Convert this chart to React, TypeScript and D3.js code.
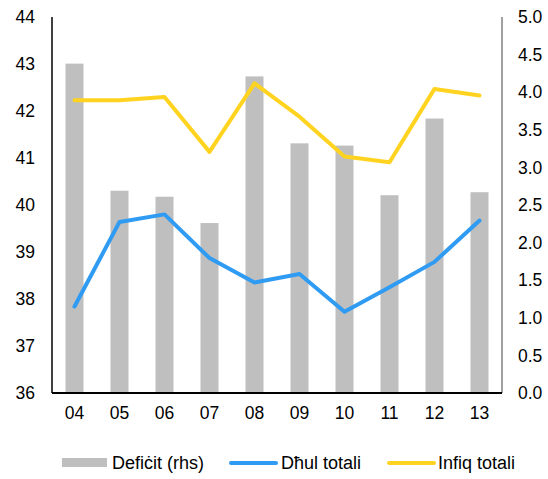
import React from "react";
import * as d3 from "d3";

const years = ["04", "05", "06", "07", "08", "09", "10", "11", "12", "13"];
const deficit = [4.38, 2.69, 2.61, 2.26, 4.21, 3.32, 3.29, 2.63, 3.65, 2.67];
const revenue = [37.84, 39.64, 39.8, 38.87, 38.35, 38.53, 37.73, 38.25, 38.79, 39.67];
const expenditure = [42.23, 42.23, 42.3, 41.13, 42.59, 41.88, 41.03, 40.91, 42.47, 42.33];
const leftTicks = [36, 37, 38, 39, 40, 41, 42, 43, 44];
const rightTicks = [0, 0.5, 1, 1.5, 2, 2.5, 3, 3.5, 4, 4.5, 5];

export default function App() {
  const W = 548, H = 479;
  const left = 52, right = 502, top = 17, bottom = 393;
  const x = d3.scaleBand<string>().domain(years).range([left, right]);
  const yL = d3.scaleLinear().domain([36, 44]).range([bottom, top]);
  const yR = d3.scaleLinear().domain([0, 5]).range([bottom, top]);
  const bw = 18;
  const cx = (d: string) => (x(d) as number) + x.bandwidth() / 2;
  const line = d3.line<number>().x((_, i) => cx(years[i])).y((v) => yL(v));
  const font = "Liberation Sans, Arial, sans-serif";
  const fs = 17.5;
  return (
    <svg width={W} height={H} style={{ position: "absolute", left: 0, top: 0 }} fontFamily={font}>
      {years.map((d, i) => (
        <rect key={d} x={cx(d) - bw / 2} y={yR(deficit[i])} width={bw} height={bottom - yR(deficit[i])} fill="#BFBFBF" />
      ))}
      <path d={line(expenditure) || ""} fill="none" stroke="#FFD320" strokeWidth={4} strokeLinejoin="round" strokeLinecap="round" />
      <path d={line(revenue) || ""} fill="none" stroke="#2F9BF3" strokeWidth={4} strokeLinejoin="round" strokeLinecap="round" />
      <line x1={left} x2={left} y1={top} y2={bottom} stroke="#000" strokeWidth={1.5} />
      <line x1={right} x2={right} y1={top} y2={bottom} stroke="#808080" strokeWidth={1.5} />
      <line x1={left} x2={right} y1={bottom} y2={bottom} stroke="#000" strokeWidth={2} />
      {leftTicks.map((t) => (
        <text key={t} x={35} y={yL(t)} dy="0.35em" textAnchor="end" fontSize={fs} fill="#000">{t}</text>
      ))}
      {rightTicks.map((t) => (
        <text key={t} x={518} y={yR(t)} dy="0.35em" textAnchor="start" fontSize={fs} fill="#000">{t.toFixed(1)}</text>
      ))}
      {years.map((d) => (
        <text key={d} x={cx(d)} y={413} dy="0.35em" textAnchor="middle" fontSize={fs} fill="#000">{d}</text>
      ))}
      <rect x={62} y={458} width={45} height={9} fill="#BFBFBF" />
      <text x={112} y={463} dy="0.35em" fontSize={18}>Defiċit (rhs)</text>
      <line x1={231} x2={276} y1={463} y2={463} stroke="#2F9BF3" strokeWidth={4} strokeLinecap="round" />
      <text x={281} y={463} dy="0.35em" fontSize={18}>Dħul totali</text>
      <line x1={389} x2={434} y1={463} y2={463} stroke="#FFD320" strokeWidth={4} strokeLinecap="round" />
      <text x={438} y={463} dy="0.35em" fontSize={18}>Infiq totali</text>
    </svg>
  );
}
